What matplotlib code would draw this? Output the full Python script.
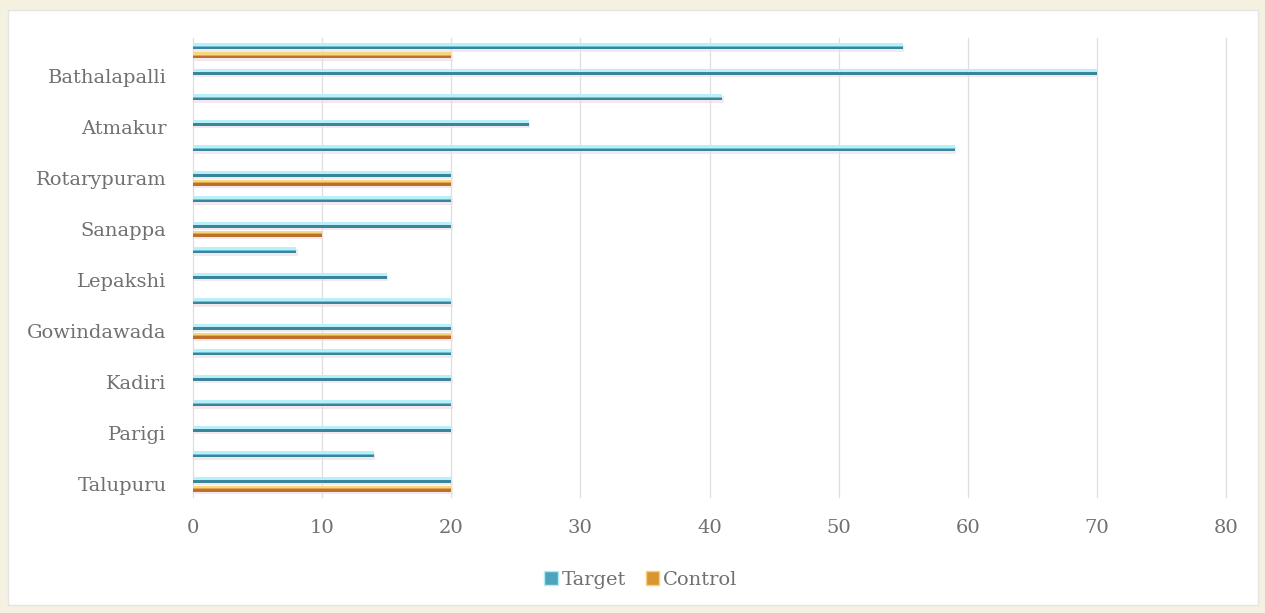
import matplotlib
matplotlib.use("Agg")
import matplotlib.pyplot as plt
import numpy as np
from matplotlib.patches import Rectangle, Patch

# Villages listed bottom to top; every other row carries a label
villages = ["Talupuru", "", "Parigi", "", "Kadiri", "", "Gowindawada", "",
            "Lepakshi", "", "Sanappa", "", "Rotarypuram", "", "Atmakur", "",
            "Bathalapalli", ""]
target = [20, 14, 20, 20, 20, 20, 20, 20, 15, 8, 20, 20, 20, 59, 26, 41, 70, 55]
control = [20, 0, 0, 0, 0, 0, 20, 0, 0, 0, 10, 0, 20, 0, 0, 0, 0, 20]
x_ticks = [0, 10, 20, 30, 40, 50, 60, 70, 80]

W, H = 1265, 613
fig = plt.figure(figsize=(W / 100, H / 100), dpi=100)
fig.patch.set_facecolor("#F5F1E1")

# white chart panel behind the axes
fig.patches.append(Rectangle((8 / W, 8 / H), (1258 - 8) / W, (603 - 8) / H,
                             transform=fig.transFigure, facecolor="white",
                             edgecolor="#E4E4E4", linewidth=1.0, zorder=-10))

ax = fig.add_axes([193 / W, (H - 497) / H, (1226 - 193) / W, (497 - 38) / H])
ax.set_facecolor("none")
ax.set_zorder(1)

y = np.arange(len(villages))
h = 0.25
off = 0.175


def cylinder_bars(ypos, vals, light, mid, dark, label):
    # soft shadow, dark lower body, light upper highlight
    ax.barh(ypos - 0.09, vals, height=h, left=0.1, color="#EEDFE6", alpha=0.7,
            zorder=2, linewidth=0)
    ax.barh(ypos, vals, height=h, color=dark, zorder=3, linewidth=0, label=label)
    ax.barh(ypos + h * 0.05, vals, height=h * 0.25, color=mid, zorder=4, linewidth=0)
    ax.barh(ypos + h * 0.27, vals, height=h * 0.46, color=light, zorder=5, linewidth=0)


cylinder_bars(y + off, target, "#B8F0FA", "#6FBFD0", "#3A8599", "Target")
cylinder_bars(y - off, control, "#F7D77E", "#E2A552", "#BE6F2A", "Control")

ax.set_xlim(0, 80)
ax.set_ylim(-0.5, len(villages) - 0.5)
ax.set_xticks(x_ticks)
ax.set_yticks(y)
ax.set_yticklabels(villages)
ax.grid(axis="x", color="#DEDEDE", linewidth=0.9, zorder=0)
ax.set_axisbelow(True)
for gl in ax.get_xgridlines():
    gl.set_clip_on(False)
for s in ax.spines.values():
    s.set_visible(False)
ax.tick_params(length=0, colors="#707070", labelsize=14)
ax.tick_params(axis="x", pad=16)
ax.tick_params(axis="y", pad=19)
for t in ax.get_xticklabels() + ax.get_yticklabels():
    t.set_fontfamily("DejaVu Serif")
    t.set_color("#707070")

handles = [Patch(facecolor="#4FA3BC", edgecolor="#B4EDF7", label="Target"),
           Patch(facecolor="#D9952F", edgecolor="#F5D27A", label="Control")]
leg = fig.legend(handles=handles, loc="center", bbox_to_anchor=(641 / W, (H - 580) / H),
                 ncol=2, frameon=False, handlelength=0.7, handleheight=0.7,
                 handletextpad=0.2, columnspacing=1.0,
                 prop={"family": "DejaVu Serif", "size": 14})
for t in leg.get_texts():
    t.set_color("#707070")

fig.savefig("out.png", dpi=100, facecolor=fig.get_facecolor())
